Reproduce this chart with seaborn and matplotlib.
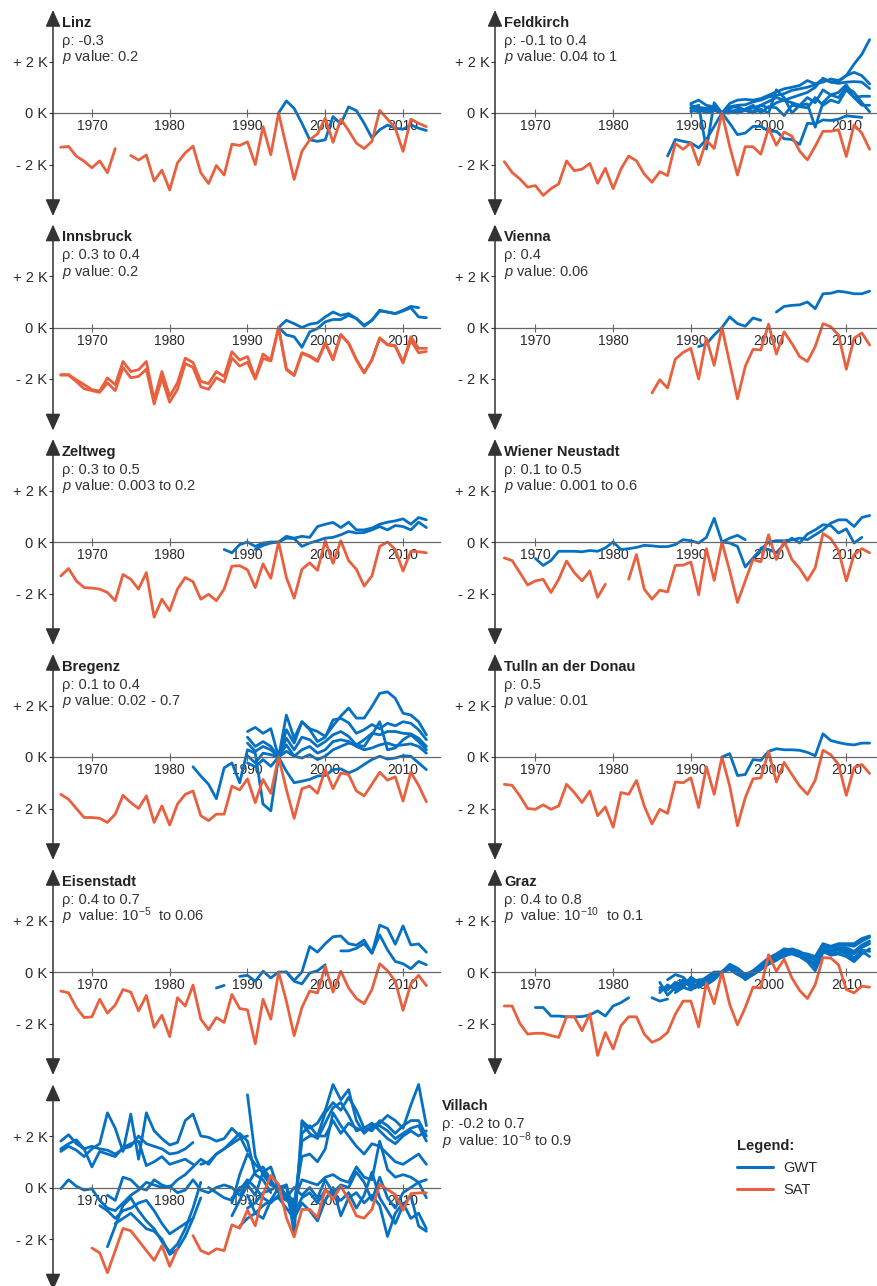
import numpy as np
import pandas as pd
import seaborn as sns
import matplotlib.pyplot as plt
from matplotlib.lines import Line2D

nan = np.nan

# ---------------- data (K, relative to the reference year) ----------------
# each series: start year + yearly values (nan = gap)

# Linz
linz_sat = [-1.33, -1.30, -1.68, -1.87, -2.13, -1.86, -2.32, -1.38, nan, -1.65,
            -1.83, -1.63, -2.64, -2.22, -2.99, -1.94, -1.55, -1.29, -2.32, -2.74,
            -2.04, -2.41, -1.21, -1.26, -1.12, -2.00, -0.53, -1.62, 0.0, -1.30,
            -2.58, -1.49, -1.04, -0.81, -0.20, -1.14, -0.24, -0.68, -1.17, -1.38,
            -1.10, 0.10, -0.24, -0.59, -1.49, -0.24, -0.40, -0.53]
linz_gwt = [0.0, 0.47, 0.18, -0.40, -1.04, -1.10, -1.04, -0.14, -0.42, 0.24,
            0.09, -0.40, -0.97, -0.65, -0.47, -0.59, -0.63, -0.46, -0.59, -0.68]

# Feldkirch
fk_sat = [-1.89, -2.31, -2.56, -2.88, -2.82, -3.20, -2.94, -2.75, -1.86, -2.24,
          -2.18, -1.96, -2.73, -2.15, -2.94, -2.18, -1.67, -1.86, -2.37, -2.69,
          -2.28, -2.43, -1.18, -1.41, -1.16, -2.01, -1.06, -1.38, 0.0, -1.30,
          -2.41, -1.31, -1.31, -1.60, -0.59, -1.25, -0.74, -0.90, -1.48, -1.82,
          -1.29, -0.71, -0.71, -0.65, -1.69, -0.46, -0.78, -1.41]
fk_gwt_a = [-1.67, -1.03, -1.10, -1.16, -1.35, -1.03, -0.52, 0.0, -0.40, -0.84,
            -0.78, -0.52, -0.52, -0.71, -0.71, -1.00, -1.03, -1.22, -0.40, -0.42,
            -0.27, -0.29, -0.24, -0.11, -0.14, -0.17]
fk_gwt_b = [0.37, 0.50, 0.30, 0.24, 0.0, 0.37, 0.50, 0.53, 0.50, 0.56, 0.69, 0.82,
            0.94, 1.00, 1.07, 1.26, 1.13, 1.20, 1.32, 1.26, 1.45, 1.90, 2.28, 2.85]
fk_gwt_c = [0.18, 0.22, 0.18, 0.12, 0.0, 0.24, 0.30, 0.32, 0.43, 0.50, 0.62, 0.68,
            0.75, 0.88, 0.94, 1.00, 1.10, 1.32, 1.20, 1.22, 1.45, 1.58, 1.45, 1.13]
fk_gwt_d = [0.20, 0.30, -1.40, 0.40, 0.0, 0.20, 0.25, 0.10, 0.20, 0.30, 0.45, 0.60,
            0.50, 0.60, 0.70, 0.80, 1.00, 1.35, 1.20, 1.15, 1.20, 1.22, 1.20, 0.95]
fk_gwt_e = [0.30, 0.20, 0.10, 0.20, 0.0, 0.05, 0.00, 0.10, 0.05, 0.30, 0.20, 0.40,
            0.50, 0.40, 0.30, 0.60, 0.40, 0.90, 0.70, 0.60, 1.00, 0.80, 0.40, 0.05]
fk_gwt_f = [0.10, 0.05, 0.15, 0.25, 0.0, 0.00, 0.15, 0.10, 0.00, 0.15, 0.00, 0.90,
            0.60, 0.00, 0.30, 0.35, -0.55, 0.40, 0.70, 0.80, 1.10, 0.60, 0.65, 0.65]
fk_gwt_g = [0.05, 0.15, 0.00, 0.10, 0.0, 0.10, 0.05, 0.15, 0.30, 0.00, 0.25, 0.20,
            -0.10, 0.30, 0.25, 0.20, 0.60, 0.30, 0.50, 0.40, 0.90, 0.60, 0.30, 0.30]

# Innsbruck
ib_sat_1 = [-1.83, -1.83, -2.03, -2.22, -2.41, -2.47, -1.96, -2.22, -1.32, -1.71,
            -1.64, -1.32, -2.79, -1.71, -2.67, -2.15, -1.19, -1.36, -2.09, -2.18,
            -1.71, -1.90, -0.94, -1.26, -1.13, -1.96, -1.03, -1.26, 0.0, -1.64,
            -1.87, -1.00, -1.13, -1.32, -0.62, -1.26, -0.29, -0.62, -1.26, -1.77,
            -1.26, -0.42, -0.68, -0.72, -1.38, -0.36, -0.81, -0.81]
ib_sat_2 = [-1.85, -1.85, -2.10, -2.38, -2.45, -2.52, -2.15, -2.45, -1.55, -1.95,
            -1.90, -1.62, -2.97, -1.98, -2.90, -2.40, -1.40, -1.55, -2.30, -2.40,
            -1.95, -2.12, -1.18, -1.50, -1.35, -2.00, -1.20, -1.30, 0.0, -1.60,
            -1.85, -0.98, -1.10, -1.28, -0.60, -1.22, -0.27, -0.60, -1.24, -1.75,
            -1.24, -0.40, -0.66, -0.70, -1.35, -0.50, -0.98, -0.93]
ib_gwt_1 = [0.0, 0.28, 0.15, 0.0, 0.13, 0.18, 0.41, 0.60, 0.47, 0.54, 0.35, 0.09,
            0.28, 0.67, 0.60, 0.54, 0.67, 0.82, 0.77]
ib_gwt_2 = [0.0, -0.29, -0.36, -0.77, -0.17, -0.04, 0.22, 0.31, 0.31, 0.47, 0.35,
            0.05, 0.28, 0.64, 0.60, 0.54, 0.64, 0.77, 0.41, 0.38]

# Vienna
vi_sat = [-2.54, -2.03, -2.35, -1.23, -0.97, -0.81, -2.00, -0.42, -1.47, 0.0,
          -1.38, -2.77, -1.51, -0.85, -0.87, 0.13, -1.03, -0.17, -0.62, -1.13,
          -1.32, -0.74, 0.15, 0.03, -0.29, -1.62, -0.42, -0.21, -0.68]
vi_gwt = [-0.74, -0.64, -0.29, 0.0, 0.41, 0.15, 0.05, 0.37, 0.28, nan, 0.60, 0.82,
          0.86, 0.88, 0.99, 0.73, 1.31, 1.33, 1.41, 1.37, 1.31, 1.31, 1.41]

# Zeltweg
zw_sat = [-1.32, -1.03, -1.51, -1.77, -1.79, -1.83, -1.96, -2.28, -1.26, -1.45,
          -1.83, -1.19, -2.92, -2.22, -2.67, -1.83, -1.38, -1.54, -2.22, -2.03,
          -2.28, -1.83, -0.94, -0.92, -1.08, -1.77, -0.85, -1.41, 0.0, -1.38,
          -2.18, -1.06, -0.81, -1.10, 0.05, -0.83, 0.05, -0.72, -1.06, -1.71,
          -1.32, -0.17, 0.0, -0.29, -1.13, -0.36, -0.38, -0.42]
zw_gwt_1 = [-0.29, -0.42, -0.10, 0.0, -0.17, -0.04, 0.0, 0.0, 0.15, 0.13, -0.17,
            -0.04, 0.05, 0.15, 0.18, 0.28, 0.41, 0.35, 0.37, 0.47, 0.60, 0.47, 0.64,
            0.60, 0.47, 0.77, 0.56]
zw_gwt_2 = [-0.29, -0.13, -0.04, 0.0, 0.22, 0.15, 0.22, 0.18, 0.60, 0.69, 0.76,
            0.56, 0.77, 0.47, 0.47, 0.54, 0.69, 0.77, 0.82, 0.90, 0.69, 0.95, 0.86]

# Wiener Neustadt
wn_sat = [-0.62, -0.72, -1.19, -1.67, -1.51, -1.45, -1.96, -1.45, -0.74, -1.19,
          -1.51, -1.13, -2.15, -1.64, nan, nan, -1.45, -0.49, -1.83, -2.22,
          -1.87, -1.94, -0.91, -0.90, -0.78, -2.05, -0.26, -1.49, 0.0, -1.13,
          -2.35, -1.51, -0.68, -0.77, 0.28, -0.68, 0.05, -0.68, -1.03, -1.49,
          -1.00, 0.33, 0.13, -0.33, -1.51, -0.49, -0.26, -0.42]
wn_gwt_1 = [-0.64, -0.91, -0.72, -0.36, -0.36, -0.36, -0.38, -0.33, -0.36, -0.23,
            0.0, -0.29, -0.26, -0.21, -0.13, -0.15, -0.18, -0.18, -0.10, 0.09,
            0.05, -0.04, 0.18, 0.92, 0.0, 0.15, 0.26, 0.09]
wn_gwt_2 = [0.0, -0.04, -0.17, -0.97, -0.62, -0.29, 0.0, 0.05, 0.05, 0.08, 0.15,
            0.09, 0.28, 0.47, 0.73, 0.86, 0.86, 0.60, 0.95, 1.03]
wn_gwt_3 = [-0.23, -0.29, -0.42, -0.08, 0.15, -0.04, 0.31, 0.47, 0.67, 0.64, 0.35,
            0.51, -0.04, 0.18]

# Bregenz
bg_sat = [-1.45, -1.64, -2.00, -2.35, -2.35, -2.38, -2.54, -2.22, -1.49, -1.77,
          -2.00, -1.51, -2.54, -1.90, -2.64, -1.83, -1.45, -1.32, -2.28, -2.47,
          -2.22, -2.22, -1.13, -1.28, -0.85, -1.77, -0.87, -1.41, 0.0, -1.26,
          -2.38, -1.23, -1.13, -1.41, -0.49, -1.23, -0.62, -0.68, -1.32, -1.51,
          -1.06, -0.59, -0.90, -0.77, -1.71, -0.59, -1.10, -1.74]
bg_gwt_1 = [-0.38, -0.74, -1.06, -1.62, -0.42, -0.23, -1.00, 0.28, 0.15, -1.83,
            -2.09, 0.0]
bg_gwt_2 = [0.99, 1.15, 0.92, 1.10, 0.0, 1.63, 0.73, 1.37, 1.10, 0.99, 0.80, 1.21,
            1.59, 1.90, 1.51, 1.51, 1.96, 2.47, 2.53, 2.28, 1.70, 1.63, 1.37, 0.86]
bg_gwt_3 = [0.77, 0.41, 0.60, 0.41, 0.0, 1.06, 0.54, 1.37, 1.06, 0.60, 0.77, 1.44,
            1.50, 1.33, 0.92, 1.06, 1.26, 1.10, 1.31, 1.21, 1.37, 1.31, 1.06, 0.67]
bg_gwt_4 = [0.54, 0.22, 0.41, 0.28, 0.0, 0.73, 0.28, 0.77, 0.67, 0.41, 0.60, 0.86,
            0.99, 0.80, 0.47, 0.67, 0.92, 0.86, 0.99, 0.99, 0.92, 0.90, 0.73, 0.41]
bg_gwt_5 = [0.05, -0.23, 0.15, 0.09, 0.0, 0.47, 0.03, 0.28, 0.41, 0.15, 0.28, 0.60,
            0.67, 0.60, 0.41, 0.28, 0.35, 0.47, 0.54, 0.44, 0.47, 0.51, 0.41, 0.15]
bg_gwt_6 = [0.0, -0.55, -1.00, -0.94, -0.87, -0.74, -0.72, -0.49, -0.46, -0.62,
            -0.49, -0.29, -0.10, 0.03, -0.08, -0.04, 0.05, 0.03, -0.23, -0.49]
bg_gwt_7 = [-0.23, -0.38, -0.10, -0.36, 0.0, 0.22, 0.03, -0.04, 0.09, -0.10, 0.03,
            0.28, 0.41, 0.54, 0.47, 0.41, 0.86, 1.37, 0.28, 0.35, 0.67, 0.86, 0.60,
            0.28]

# Tulln an der Donau
tu_sat = [-1.06, -1.10, -1.51, -2.00, -2.03, -1.86, -2.03, -1.90, -1.06, -1.38,
          -1.77, -1.32, -2.28, -1.94, -2.73, -1.38, -1.45, -0.91, -1.90, -2.60,
          -2.03, -2.19, -0.97, -1.00, -0.81, -1.96, -0.38, -1.45, 0.0, -1.13,
          -2.67, -1.58, -0.85, -0.81, 0.22, -0.97, -0.21, -0.68, -1.13, -1.45,
          -0.90, 0.26, 0.09, -0.29, -1.49, -0.42, -0.29, -0.64]
tu_gwt = [0.0, 0.13, -0.72, -0.68, -0.10, -0.13, 0.22, 0.32, 0.28, 0.28, 0.26,
          0.18, 0.05, 0.90, 0.64, 0.56, 0.50, 0.47, 0.54, 0.54]

# Eisenstadt
es_sat = [-0.74, -0.81, -1.38, -1.77, -1.74, -1.06, -1.60, -1.28, -0.68, -0.78,
          -1.51, -0.91, -2.15, -1.68, -2.51, -1.00, -1.32, -0.51, -1.83, -2.24,
          -1.77, -1.96, -0.87, -1.42, -1.47, -2.79, -1.06, -1.83, 0.0, -1.13,
          -2.47, -1.38, -0.74, -0.81, 0.22, -0.78, 0.03, -0.62, -1.03, -1.23,
          -0.68, 0.32, 0.05, -0.36, -1.49, -0.46, -0.13, -0.53]
es_gwt_0 = [-0.62, -0.52]
es_gwt_1 = [-0.17, -0.13, -0.36, 0.03, -0.23, 0.0, 0.0, -0.36, -0.46, -0.04, 0.05,
            0.28]
es_gwt_2 = [0.0, -0.33, 0.0, 0.99, 0.77, 1.10, 1.37, 1.40, 1.10, 1.04, 1.24, 0.73,
            1.82, 1.69, 1.08, 1.79, 1.05, 1.09, 0.77]
es_gwt_3 = [0.82, 0.82, 0.92, 1.10, 0.73, 1.44, 0.86, 0.41, 0.32, 0.13, 0.41, 0.28]

# Graz
gz_sat = [-1.32, -1.32, -2.00, -2.41, -2.38, -2.38, -2.47, -2.54, -1.74, -1.74,
          -2.28, -1.62, -3.24, -2.35, -2.99, -2.09, -1.74, -1.74, -2.41, -2.73,
          -2.60, -2.35, -1.64, -1.13, -1.13, -2.13, -0.42, -1.23, 0.0, -1.26,
          -2.05, -1.38, -0.59, -0.62, 0.67, 0.03, 0.50, -0.23, -0.72, -1.03,
          -0.49, 0.56, 0.54, 0.28, -0.68, -0.81, -0.55, -0.59]
gz_gwt_0 = [-1.38, -1.38, -1.71, -1.71, -1.74, -1.74, -1.73, -1.67, -1.51, -1.71,
            -1.32, -1.19, -1.00]
gz_gwt_1 = [-1.00, -1.13, -1.05]
gz_gwt_a = [-0.40, -0.90, -0.60, -0.30, -0.60, -0.50, -0.30, -0.10, 0.0, 0.25, 0.10,
            -0.20, 0.00, 0.20, 0.45, 0.60, 0.80, 0.90, 0.80, 0.60, 0.50, 1.00, 0.95,
            1.05, 1.05, 1.00, 1.20, 1.35]
gz_gwt_b = [-0.60, -0.70, -0.40, -0.50, -0.40, -0.60, -0.40, -0.20, 0.0, 0.20, 0.00,
            -0.30, -0.10, 0.10, 0.35, 0.50, 0.70, 0.75, 0.65, 0.50, 0.30, 0.85, 0.80,
            0.90, 0.85, 0.70, 0.95, 1.10]
gz_gwt_c = [-0.30, -0.10, -0.20, -0.50, -0.30, -0.30, -0.15, 0.0, 0.15, 0.05, -0.15,
            -0.05, 0.20, 0.50, 0.55, 0.85, 0.85, 0.70, 0.55, 0.20, 1.05, 0.70, 0.75,
            0.80, 0.55, 0.80, 0.60]
gz_gwt_d = [-0.80, -0.50, -0.70, -0.40, -0.30, -0.40, -0.50, -0.30, 0.0, 0.10, -0.10,
            -0.25, -0.10, 0.10, 0.30, 0.45, 0.65, 0.70, 0.60, 0.45, 0.35, 0.80, 0.65,
            0.70, 0.60, 0.40, 0.70, 0.90]
gz_gwt_e = [-0.80, -0.60, -0.20, -0.40, -0.20, 0.00, 0.0, 0.30, 0.15, -0.10, 0.05,
            0.30, 0.55, 0.70, 0.90, 0.85, 0.75, 0.70, 0.60, 1.10, 1.00, 1.10, 1.10,
            1.10, 1.30, 1.40]
gz_gwt_f = [-0.70, -0.60, -0.50, -0.60, -0.70, -0.50, -0.35, -0.20, 0.0, 0.20, 0.05,
            -0.20, -0.10, 0.15, 0.40, 0.50, 0.60, 0.75, 0.60, 0.40, 0.05, 0.75, 0.80,
            0.85, 0.70, 0.50, 0.85, 0.80]
gz_gwt_g = [-0.50, -0.40, -0.50, -0.55, -0.45, -0.25, 0.0, 0.18, 0.08, -0.18, -0.02,
            0.22, 0.42, 0.65, 0.78, 0.80, 0.72, 0.62, 0.45, 0.95, 0.85, 0.95, 0.95,
            0.80, 1.05, 1.20]

# Villach
vl_sat = [-2.35, -2.54, -3.31, -2.45, -1.59, -1.68, -2.06, -2.45, -2.83, -2.26,
          -3.06, -2.38, nan, -1.87, -2.45, -2.58, -2.38, -2.45, -1.45, -1.58,
          -0.88, -1.49, -0.27, 0.47, 0.12, -1.17, -1.92, -0.85, -0.85, -1.17,
          -0.08, -0.46, 0.05, -0.46, -1.10, -1.19, -0.85, 0.12, -0.08, -0.27,
          -0.88, -0.24, -0.21, -0.21]
vl_gwt_1 = [1.80, 2.05, 1.70, 1.50, 1.60, 1.50, 1.45, 1.30, 1.50, 1.60, 2.00, 1.70,
            1.60, 1.50, 1.30, 1.35, 1.50, 1.75]
vl_gwt_2 = [1.40, 1.60, 1.45, 1.20, 1.50, 1.70, 2.90, 2.30, 1.40, 2.85, 1.10, 2.90,
            2.20, 1.90, 1.65, 1.75, 2.60, 2.85, 2.00, 1.95, 1.80, 1.90, 2.30, 2.00,
            1.40]
vl_gwt_3 = [1.50, 1.70, 1.85, 1.50, 0.80, 1.40, 1.30, 1.20, 1.55, 1.70, 1.80, 0.85,
            1.00, 1.20, 0.90, 1.00, 1.10, 0.90]
vl_gwt_4 = [-0.05, 0.30, 0.05, -0.10, -0.05, -0.50, -0.80, -0.90, -0.60, -0.30,
            -0.10, 0.20, 0.10, 0.00, 0.05, -0.20, -0.10, 0.30, -0.10, -0.20, 0.00,
            0.10, 0.00, -0.30, 0.20]
vl_gwt_5 = [-2.30, -1.50, -0.70, -0.40, -0.90, -1.30, -1.60, -2.10, -2.50, -2.20,
            -1.60, -0.80, 0.20]
vl_gwt_6 = [-1.40, -1.20, -1.00, -1.30, -1.60, -1.70, -2.00, -2.60, -2.40, -1.90,
            -1.20, -0.40]
vl_gwt_7 = [-0.70, -0.90, -1.20, -0.90, -0.80, -0.60, -0.50, -0.90, -1.40, -1.80,
            -1.60, -1.40, -1.20]
vl_gwt_8 = [-0.30, -0.50, 0.40, 0.30, 0.00, -0.10, 0.30, 0.10, 0.00, 0.30, 0.50,
            0.80, 1.10, 0.90, 1.30, 1.50, 1.80, 2.10, 1.80, 0.50, 0.30, -0.20]
vl_gwt_9 = [-1.10, -0.50, 0.10, 0.60, 0.80, 0.30, -0.20, 0.10, -1.80, 2.60, 2.30,
            2.50, 3.00, 4.00, 3.40, 3.80, 2.60, 2.10, 2.40, 2.50, 2.80, 2.60, 2.30,
            3.20, 4.00, 2.40]
vl_gwt_10 = [-0.60, 0.50, 1.30, 0.90, 0.60, 0.20, -0.10, -0.30, -1.20, 2.10, 2.40,
             2.00, 2.90, 3.30, 3.00, 3.50, 3.00, 2.30, 2.20, 2.60, 2.40, 2.10, 2.40,
             2.60, 2.60, 2.00]
vl_gwt_11 = [3.60, 1.20, 0.50, 0.10, 0.00, -0.40, -0.80, 1.80, 2.00, 2.00, 2.00,
             2.60, 2.10, 2.50, 2.30, 2.20, 2.30, 2.40, 2.20, 1.90, 2.10, 2.30, 2.40,
             1.80]
vl_gwt_12 = [-0.40, -0.10, 0.30, 0.00, -0.40, -0.60, -0.30, -0.50, -0.60, 1.20,
             1.30, 1.00, 1.50, 2.90, 2.40, 2.00, 1.60, 1.30, 1.70, 1.60, 1.30, 1.00,
             0.90, 1.10, 1.30, 0.90]
vl_gwt_13 = [-0.80, -0.60, -0.20, -0.10, 0.10, -0.30, -0.50, 0.30, 0.20, 0.10,
             0.40, 0.50, 0.30, 0.20, 0.80, 0.40, 0.30, 1.80, 0.70, 0.40, 0.50, 0.40,
             0.20, 0.30]
vl_gwt_14 = [-1.50, -1.20, -1.00, -0.70, -0.50, -0.40, -0.80, -1.20, -0.60, -0.90,
             -1.30, -0.50, 0.00, -1.10, -0.40, -0.20, -0.60, -0.30, -0.70, -1.90,
             -1.00, -0.60, -1.20, -1.00, -1.60]
vl_gwt_15 = [-0.30, -1.00, -1.20, -0.50, 0.00, 0.10, -1.00, -0.40, -0.20, -0.60,
             -0.10, -0.30, -0.50, -0.20, -0.80, -0.30, 0.60, -0.40, -0.90, -1.40,
             -0.70, -0.30, -1.50, -1.70]
vl_gwt_16 = [0.90, 1.00, 1.30, 1.50, 1.70, 1.90, 2.00]
vl_gwt_17 = [0.00, -0.20, -0.40, -0.50, 0.00, 0.10, -0.30, 0.60, 0.80, -0.10,
             -0.40, 0.00, -0.30, 0.00, -0.40, 0.30, -0.20, 0.10, 0.00, 0.60, 0.20,
             -0.50, 0.40, -0.40, -0.80, -0.20, 0.00, 0.20, -0.40]
vl_gwt_18 = [2.50, 2.10, 1.90, 2.50, 3.10, 3.30, 2.80, 2.20, 2.30, 2.50, 2.20,
             1.90, 1.70, 2.00, 2.20, 2.00, 2.20]

names = ["Linz", "Feldkirch", "Innsbruck", "Vienna", "Zeltweg", "Wiener Neustadt",
         "Bregenz", "Tulln an der Donau", "Eisenstadt", "Graz", "Villach"]
rho_labels = ["ρ: -0.3", "ρ: -0.1 to 0.4", "ρ: 0.3 to 0.4", "ρ: 0.4", "ρ: 0.3 to 0.5",
              "ρ: 0.1 to 0.5", "ρ: 0.1 to 0.4", "ρ: 0.5", "ρ: 0.4 to 0.7",
              "ρ: 0.4 to 0.8", "ρ: -0.2 to 0.7"]
p_labels = ["$p$ value: 0.2", "$p$ value: 0.04 to 1", "$p$ value: 0.2",
            "$p$ value: 0.06", "$p$ value: 0.003 to 0.2", "$p$ value: 0.001 to 0.6",
            "$p$ value: 0.02 - 0.7", "$p$ value: 0.01",
            "$p$  value: 10$^{-5}$  to 0.06", "$p$  value: 10$^{-10}$  to 0.1",
            "$p$  value: 10$^{-8}$ to 0.9"]

sat_series = [
    [(1966, linz_sat)], [(1966, fk_sat)], [(1966, ib_sat_1), (1966, ib_sat_2)],
    [(1985, vi_sat)], [(1966, zw_sat)], [(1966, wn_sat)], [(1966, bg_sat)],
    [(1966, tu_sat)], [(1966, es_sat)], [(1966, gz_sat)], [(1970, vl_sat)],
]
gwt_series = [
    [(1994, linz_gwt)],
    [(1987, fk_gwt_a), (1990, fk_gwt_b), (1990, fk_gwt_c), (1990, fk_gwt_d),
     (1990, fk_gwt_e), (1990, fk_gwt_f), (1990, fk_gwt_g)],
    [(1994, ib_gwt_1), (1994, ib_gwt_2)],
    [(1991, vi_gwt)],
    [(1987, zw_gwt_1), (1991, zw_gwt_2)],
    [(1970, wn_gwt_1), (1994, wn_gwt_2), (1999, wn_gwt_3)],
    [(1983, bg_gwt_1), (1990, bg_gwt_2), (1990, bg_gwt_3), (1990, bg_gwt_4),
     (1990, bg_gwt_5), (1994, bg_gwt_6), (1990, bg_gwt_7)],
    [(1994, tu_gwt)],
    [(1986, es_gwt_0), (1989, es_gwt_1), (1995, es_gwt_2), (2002, es_gwt_3)],
    [(1970, gz_gwt_0), (1985, gz_gwt_1), (1986, gz_gwt_a), (1986, gz_gwt_b),
     (1987, gz_gwt_c), (1986, gz_gwt_d), (1988, gz_gwt_e), (1986, gz_gwt_f),
     (1988, gz_gwt_g)],
    [(1966, vl_gwt_1), (1966, vl_gwt_2), (1966, vl_gwt_3), (1966, vl_gwt_4),
     (1972, vl_gwt_5), (1973, vl_gwt_6), (1971, vl_gwt_7), (1972, vl_gwt_8),
     (1988, vl_gwt_9), (1988, vl_gwt_10), (1990, vl_gwt_11), (1988, vl_gwt_12),
     (1990, vl_gwt_13), (1989, vl_gwt_14), (1990, vl_gwt_15), (1984, vl_gwt_16),
     (1985, vl_gwt_17), (1997, vl_gwt_18)],
]

decades = [1970, 1980, 1990, 2000, 2010]

BLUE = "#0670C2"
RED = "#E8603E"
AXC = "#333333"
LW = 2.0


def to_frame(series_list):
    # one row per point, a new segment id at every gap
    rows = []
    seg = 0
    for start, vals in series_list:
        seg += 1
        for i, v in enumerate(vals):
            if np.isnan(v):
                seg += 1
                continue
            rows.append((start + i, v, seg))
    return pd.DataFrame(rows, columns=["year", "dT", "seg"])


sns.set_theme(style="ticks")
plt.rcParams["font.family"] = ["Liberation Sans", "DejaVu Sans"]
plt.rcParams["mathtext.fontset"] = "custom"
plt.rcParams["mathtext.rm"] = "Liberation Sans"
plt.rcParams["mathtext.it"] = "Liberation Sans:italic"
plt.rcParams["mathtext.bf"] = "Liberation Sans:bold"

W, H = 877, 1286
fig = plt.figure(figsize=(W / 100, H / 100), dpi=100)

# panel geometry in pixels
cols = [(53, 440, 1965.0, 2014.75), (495, 877, 1964.8, 2013.95)]
zero_rows = [113, 327.5, 542, 757, 972, 1187.5]
half = 103

for k, name in enumerate(names):
    r, c = divmod(k, 2)
    x0, x1, ylo, yhi = cols[c]
    zy = zero_rows[r]
    ax = fig.add_axes([x0 / W, 1 - (zy + half) / H, (x1 - x0) / W, 2 * half / H])
    ax.patch.set_alpha(0)

    gw = to_frame(gwt_series[k])
    st = to_frame(sat_series[k])
    sns.lineplot(data=gw, x="year", y="dT", units="seg", estimator=None,
                 color=BLUE, lw=LW, ax=ax, legend=False)
    sns.lineplot(data=st, x="year", y="dT", units="seg", estimator=None,
                 color=RED, lw=LW, ax=ax, legend=False)
    for ln in ax.lines:
        ln.set_clip_on(False)
        ln.set_solid_joinstyle("round")

    ax.set_xlim(ylo, yhi)
    ax.set_ylim(-4, 4)
    ax.set_xlabel("")
    ax.set_ylabel("")
    for s in ["top", "right", "left"]:
        ax.spines[s].set_visible(False)
    ax.spines["bottom"].set_position(("data", 0))
    ax.spines["bottom"].set_color("#666666")
    ax.spines["bottom"].set_linewidth(0.9)
    ax.set_xticks(decades)
    ax.set_xticklabels([str(d) for d in decades])
    ax.tick_params(axis="x", direction="inout", length=6, width=0.8,
                   color="#666666", labelsize=10, pad=1.5, labelcolor="#2a2a2a")
    ax.set_yticks([-2, 0, 2])
    ax.set_yticklabels(["- 2 K", "0 K", "+ 2 K"])
    ax.tick_params(axis="y", direction="out", length=3, width=0.8, color=AXC,
                   labelsize=10.5, pad=1, labelcolor="#2a2a2a")
    ax.annotate("", xy=(0, 1), xytext=(0, 0), xycoords="axes fraction",
                arrowprops=dict(arrowstyle="<|-|>,head_length=0.85,head_width=0.38",
                                color=AXC, lw=1.1, shrinkA=0, shrinkB=0))

    if name != "Villach":
        ax.annotate(name, xy=(0, 1), xycoords="axes fraction", xytext=(6.5, -9.2),
                    textcoords="offset points", ha="left", va="center",
                    fontsize=10.5, fontweight="bold", color="#222222")
        ax.annotate(rho_labels[k], xy=(0, 1), xycoords="axes fraction",
                    xytext=(6.5, -22.1), textcoords="offset points", ha="left",
                    va="center", fontsize=10.5, color=AXC)
        ax.annotate(p_labels[k], xy=(0, 1), xycoords="axes fraction",
                    xytext=(6.5, -34.0), textcoords="offset points", ha="left",
                    va="center", fontsize=10.5, color=AXC)
    else:
        fig.text(442 / W, 1 - 1106 / H, name, ha="left", va="center",
                 fontsize=10.5, fontweight="bold", color="#222222")
        fig.text(442 / W, 1 - 1124 / H, rho_labels[k], ha="left", va="center",
                 fontsize=10.5, color=AXC)
        fig.text(442 / W, 1 - 1141 / H, p_labels[k], ha="left", va="center",
                 fontsize=10.5, color=AXC)

handles = [Line2D([], [], color=BLUE, lw=2.2, label="GWT"),
           Line2D([], [], color=RED, lw=2.2, label="SAT")]
fig.legend(handles=handles, title="Legend:", loc="upper left",
           bbox_to_anchor=(737 / W, 1 - 1139 / H), frameon=False,
           alignment="left", title_fontproperties={"weight": "bold", "size": 10.5},
           fontsize=10.5, handlelength=2.5, handletextpad=0.65, labelspacing=0.55,
           borderpad=0, borderaxespad=0, labelcolor="#2a2a2a")

fig.savefig("out.png", dpi=100)
